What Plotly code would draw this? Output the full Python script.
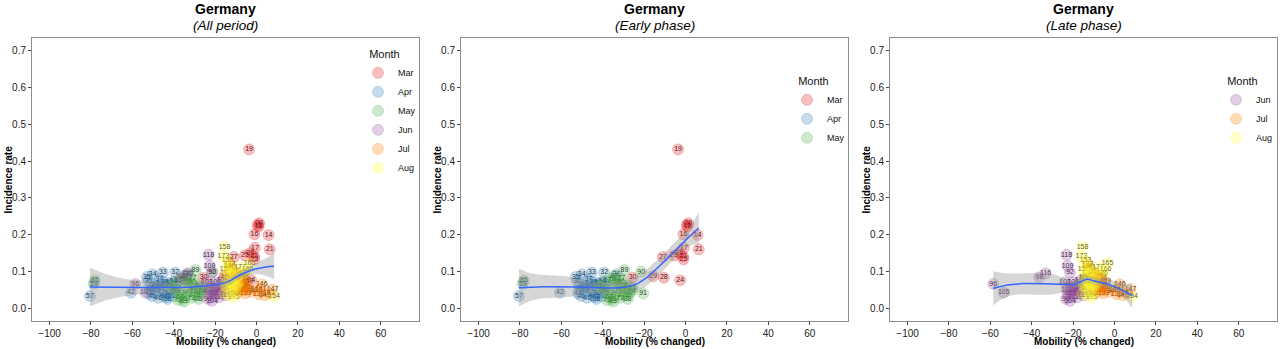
import numpy as np
import plotly.graph_objects as go

# ---------------- data (day index, mobility % change, incidence rate) ----------------
mar_day = [14, 15, 16, 17, 18, 19, 20, 21, 22, 23, 24, 25, 26, 27, 28, 29, 30]
mar_mob = [5.8, 0.6, -1.0, -0.8, 1.0, -3.6, 1.3, 6.4, -1.2, -1.0, -2.6, -5.6, -3.0, -11.0, -10.5, -15.6, -25.6]
mar_inc = [0.199, 0.226, 0.201, 0.164, 0.222, 0.432, 0.231, 0.160, 0.141, 0.133, 0.076, 0.143, 0.150, 0.139, 0.083, 0.087, 0.083]

apr_day = list(range(31, 61))
apr_mob = [-33.3, -39.3, -45.3, -50.2, -53.0, -52.4, -47.0, -44.5, -49.0, -51.5, -46.0, -60.7, -52.0, -48.5, -50.5,
           -47.5, -45.0, -44.0, -49.5, -42.5, -41.0, -44.0, -42.0, -40.0, -38.0, -46.5, -80.5, -43.0, -78.7, -39.5]
apr_inc = [0.092, 0.097, 0.097, 0.092, 0.085, 0.074, 0.078, 0.070, 0.062, 0.055, 0.052, 0.042, 0.040, 0.045, 0.033,
           0.028, 0.036, 0.030, 0.058, 0.040, 0.033, 0.063, 0.068, 0.072, 0.065, 0.066, 0.033, 0.025, 0.066, 0.045]

may_day = list(range(61, 92))
may_mob = [-40.0, -38.5, -36.5, -37.0, -35.5, -41.5, -38.0, -35.0, -33.0, -34.0, -37.9, -33.0, -31.5, -32.5, -30.5,
           -30.0, -31.0, -29.0, -28.5, -31.3, -27.5, -27.0, -35.0, -26.0, -78.1, -25.5, -34.5, -28.0, -29.5, -21.4, -20.5]
may_inc = [0.055, 0.048, 0.040, 0.030, 0.025, 0.060, 0.075, 0.078, 0.072, 0.060, 0.022, 0.035, 0.028, 0.050, 0.045,
           0.060, 0.080, 0.035, 0.052, 0.071, 0.062, 0.040, 0.018, 0.046, 0.075, 0.055, 0.088, 0.025, 0.104, 0.099, 0.040]

jun_day = list(range(92, 122))
jun_mob = [-21.5, -22.0, -20.5, -22.5, -58.6, -21.0, -36.4, -23.5, -20.0, -19.5, -23.0, -18.5, -21.5, -53.5, -19.0,
           -24.0, -17.5, -22.7, -16.5, -20.0, -18.0, -15.5, -17.0, -14.5, -33.3, -16.0, -23.2, -13.5, -14.0, -15.0]
jun_inc = [0.097, 0.060, 0.050, 0.040, 0.066, 0.030, 0.084, 0.025, 0.070, 0.040, 0.050, 0.060, 0.020, 0.042, 0.055,
           0.070, 0.045, 0.115, 0.075, 0.050, 0.030, 0.055, 0.045, 0.080, 0.095, 0.065, 0.145, 0.050, 0.060, 0.035]

jul_day = list(range(122, 153))
jul_mob = [-13.0, -12.0, -10.5, -9.0, -8.0, -12.5, -11.0, -7.0, -5.5, -6.5, -4.0, -5.5, -3.0, -9.5, -6.0, -7.5,
           0.0, 1.0, -11.5, 2.0, -8.0, -8.5, -9.5, 4.0, 2.5, 7.7, -6.5, -4.5, -7.5, -10.0, 6.0]
jul_inc = [0.120, 0.105, 0.095, 0.088, 0.075, 0.070, 0.062, 0.065, 0.058, 0.048, 0.052, 0.040, 0.045, 0.068, 0.062,
           0.050, 0.048, 0.038, 0.085, 0.052, 0.095, 0.052, 0.040, 0.035, 0.065, 0.051, 0.080, 0.072, 0.085, 0.078, 0.040]

aug_day = list(range(153, 184))
aug_mob = [-14.0, 8.5, -13.0, -11.0, -15.0, -15.5, -12.0, -14.5, -10.0, -13.0, -11.5, -15.0, -3.4, -4.3, -12.5,
           -14.0, -10.5, -12.0, -15.5, -13.5, -16.0, -9.5, -11.0, -6.0, -8.0, -13.2, -9.0, -12.8, -14.8, -10.2, -8.6]
aug_inc = [0.130, 0.031, 0.115, 0.100, 0.105, 0.167, 0.090, 0.085, 0.080, 0.072, 0.065, 0.060, 0.122, 0.105, 0.065,
           0.058, 0.062, 0.045, 0.040, 0.035, 0.140, 0.060, 0.030, 0.095, 0.110, 0.095, 0.070, 0.110, 0.070, 0.040, 0.090]

month_names = ["Mar", "Apr", "May", "Jun", "Jul", "Aug"]
month_data = {
    "Mar": (mar_day, mar_mob, mar_inc),
    "Apr": (apr_day, apr_mob, apr_inc),
    "May": (may_day, may_mob, may_inc),
    "Jun": (jun_day, jun_mob, jun_inc),
    "Jul": (jul_day, jul_mob, jul_inc),
    "Aug": (aug_day, aug_mob, aug_inc),
}
month_rgb = {
    "Mar": (228, 26, 28), "Apr": (55, 126, 184), "May": (77, 175, 74),
    "Jun": (152, 78, 163), "Jul": (255, 127, 0), "Aug": (255, 255, 51),
}

panel_country = "Germany"
panel_subtitles = ["(All period)", "(Early phase)", "(Late phase)"]
panel_months = [month_names, ["Mar", "Apr", "May"], ["Jun", "Jul", "Aug"]]

x_ticks = [-100, -80, -60, -40, -20, 0, 20, 40, 60]
y_ticks = [0.0, 0.1, 0.2, 0.3, 0.4, 0.5, 0.6, 0.7]
x_range = [-108.5, 78.5]
y_range = [-0.035, 0.735]


# ------- loess (span 0.75, degree 2, kd-tree + Hermite interpolation) with 95% CI, like geom_smooth -------
def loess(x, y, xs, span=0.75, cell=0.2):
    x = np.asarray(x, float)
    y = np.asarray(y, float)
    n = len(x)
    q = int(np.floor(n * span))

    def rows(x0):
        d = np.abs(x - x0)
        h = np.sort(d)[q - 1] * 1.0000001
        u = np.clip(d / h, 0, 1)
        w = (1 - u ** 3) ** 3
        X = np.column_stack([np.ones(n), x - x0, (x - x0) ** 2])
        XtW = X.T * w
        B = np.linalg.solve(XtW @ X, XtW)
        return B[0], B[1]

    srt = np.sort(x)
    lo_b, hi_b = srt[0], srt[-1]
    mu = 0.005 * max(hi_b - lo_b, 1e-10 * max(abs(lo_b), abs(hi_b)) + 1e-30)
    lo_b -= mu
    hi_b += mu
    fc = int(np.floor(n * span * cell))
    verts = {lo_b, hi_b}

    def split(l, u, vlo, vhi):
        if u - l + 1 <= fc:
            return
        m = (l + u) // 2
        off = 0
        while l <= m + off < u:
            if srt[m + off - 1] == srt[m + off]:
                off = -off
                if off >= 0:
                    off += 1
            else:
                break
        m = m + off
        if m >= u or m < l:
            return
        v = (srt[m - 1] + srt[m]) / 2
        if v <= vlo or v >= vhi:
            return
        verts.add(v)
        split(l, m, vlo, v)
        split(m + 1, u, v, vhi)

    split(1, n, lo_b, hi_b)
    V = np.array(sorted(verts))
    LV = [rows(v) for v in V]

    def interp(x0):
        i = int(np.clip(np.searchsorted(V, x0) - 1, 0, len(V) - 2))
        v0, v1 = V[i], V[i + 1]
        hh = v1 - v0
        t = (x0 - v0) / hh
        h00 = 2 * t ** 3 - 3 * t ** 2 + 1
        h10 = t ** 3 - 2 * t ** 2 + t
        h01 = -2 * t ** 3 + 3 * t ** 2
        h11 = t ** 3 - t ** 2
        return h00 * LV[i][0] + h10 * hh * LV[i][1] + h01 * LV[i + 1][0] + h11 * hh * LV[i + 1][1]

    L = np.array([interp(v) for v in x])
    R = np.eye(n) - L
    M = R.T @ R
    d1 = np.trace(M)
    d2 = np.trace(M @ M)
    sigma = np.sqrt(np.sum((y - L @ y) ** 2) / d1)
    df = d1 ** 2 / d2
    z = 1.959964
    t = z + (z ** 3 + z) / (4 * df) + (5 * z ** 5 + 16 * z ** 3 + 3 * z) / (96 * df ** 2)
    Ls = np.array([interp(v) for v in xs])
    fit = Ls @ y
    se = sigma * np.sqrt(np.sum(Ls ** 2, axis=1))
    return fit, fit - t * se, fit + t * se


# ---------------- figure ----------------
W, H = 1280, 349
ML, MR, MT, MB = 32, 3, 38, 28
PW = W - ML - MR
PH = H - MT - MB
panel_px = [(32, 419), (461, 848), (890, 1277)]
FONT = "Liberation Sans, Arial, sans-serif"

fig = go.Figure()
legend_ids = ["legend", "legend2", "legend3"]
legend_pos = [(358, 44), (787, 71), (1216, 71)]

for p in range(3):
    xa = "x" if p == 0 else f"x{p + 1}"
    ya = "y" if p == 0 else f"y{p + 1}"
    months = panel_months[p]
    # labels (drawn first, tinted by translucent circles)
    for m in months:
        d, mx, my = month_data[m]
        fig.add_trace(go.Scatter(
            x=mx, y=my, text=[str(v) for v in d], mode="text",
            textfont=dict(size=7, color="rgba(0,0,0,0.95)", family=FONT),
            xaxis=xa, yaxis=ya, showlegend=False, hoverinfo="skip", cliponaxis=False))
    for m in months:
        d, mx, my = month_data[m]
        r, g, b = month_rgb[m]
        fig.add_trace(go.Scatter(
            x=mx, y=my, mode="markers", name=m, legend=legend_ids[p],
            marker=dict(size=11, color=f"rgba({r},{g},{b},0.28)",
                        line=dict(color=f"rgba({r},{g},{b},0.3)", width=0.8)),
            xaxis=xa, yaxis=ya, showlegend=True, cliponaxis=False,
            customdata=d, hovertemplate="Day %{customdata}<br>%{x}, %{y}<extra>" + m + "</extra>"))
    # smooth
    allx = np.concatenate([month_data[m][1] for m in months])
    ally = np.concatenate([month_data[m][2] for m in months])
    xs = np.linspace(allx.min(), allx.max(), 80)
    fit, lo, hi = loess(allx, ally, xs)
    fig.add_trace(go.Scatter(x=xs, y=lo, mode="lines", line=dict(width=0, color="rgba(0,0,0,0)"),
                             xaxis=xa, yaxis=ya, showlegend=False, hoverinfo="skip",
                             legend=legend_ids[p]))
    fig.add_trace(go.Scatter(x=xs, y=hi, mode="lines", line=dict(width=0, color="rgba(0,0,0,0)"),
                             fill="tonexty", fillcolor="rgba(153,153,153,0.4)",
                             xaxis=xa, yaxis=ya, showlegend=False, hoverinfo="skip",
                             legend=legend_ids[p]))
    fig.add_trace(go.Scatter(x=xs, y=fit, mode="lines", line=dict(width=1.5, color="#3366FF"),
                             xaxis=xa, yaxis=ya, showlegend=False, hoverinfo="skip",
                             legend=legend_ids[p]))

layout = dict(
    width=W, height=H, margin=dict(l=ML, r=MR, t=MT, b=MB, autoexpand=False),
    paper_bgcolor="white", plot_bgcolor="white",
    font=dict(family=FONT, color="#222"),
    showlegend=True,
)
axis_common = dict(showgrid=False, zeroline=False, showline=True, mirror=True,
                   linecolor="#8c8c8c", linewidth=1, ticks="outside", ticklen=3,
                   tickcolor="#444", tickwidth=1, tickfont=dict(size=10, color="#222", family=FONT),
                   automargin=False)
annotations = []
for p in range(3):
    a, b = panel_px[p]
    dom = [(a - ML) / PW, (b - ML) / PW]
    xk = "xaxis" if p == 0 else f"xaxis{p + 1}"
    yk = "yaxis" if p == 0 else f"yaxis{p + 1}"
    xa = "x" if p == 0 else f"x{p + 1}"
    ya = "y" if p == 0 else f"y{p + 1}"
    layout[xk] = dict(axis_common, domain=dom, range=x_range, tickvals=x_ticks, anchor=ya)
    layout[yk] = dict(axis_common, domain=[0, 1], range=y_range, tickvals=y_ticks,
                      tickformat=".1f", anchor=xa)
    cx = ((a + b) / 2 - ML) / PW
    annotations.append(dict(text="<b>" + panel_country + "</b>", x=cx, y=(H - MB - 9) / PH,
                            xref="paper", yref="paper", showarrow=False,
                            font=dict(size=14, color="black", family=FONT), xanchor="center", yanchor="middle"))
    annotations.append(dict(text="<i>" + panel_subtitles[p] + "</i>", x=cx, y=(H - MB - 26) / PH,
                            xref="paper", yref="paper", showarrow=False,
                            font=dict(size=13.5, color="black", family=FONT), xanchor="center", yanchor="middle"))
    annotations.append(dict(text="<b>Mobility (% changed)</b>", x=cx, y=-(341 - (H - MB)) / PH,
                            xref="paper", yref="paper", showarrow=False,
                            font=dict(size=10, color="black", family=FONT), xanchor="center", yanchor="middle"))
    annotations.append(dict(text="<b>Incidence rate</b>", x=(a - 24 - ML) / PW, y=0.5, textangle=-90,
                            xref="paper", yref="paper", showarrow=False,
                            font=dict(size=10, color="black", family=FONT), xanchor="center", yanchor="middle"))
    lx, ly = legend_pos[p]
    layout[legend_ids[p]] = dict(
        x=(lx - ML) / PW, y=(H - MB - ly) / PH, xanchor="left", yanchor="top",
        xref="paper", yref="paper", bgcolor="rgba(0,0,0,0)", traceorder="normal",
        title=dict(text="\u00a0\u00a0\u00a0Month", font=dict(size=11, color="#111", family=FONT)),
        font=dict(size=9, color="#111", family=FONT), itemsizing="trace",
        tracegroupgap=0)
layout["annotations"] = annotations
fig.update_layout(**layout)
fig.write_html("out.html", config={"displayModeBar": False},
               post_script="document.body.style.margin='0';document.body.style.overflow='hidden';")
